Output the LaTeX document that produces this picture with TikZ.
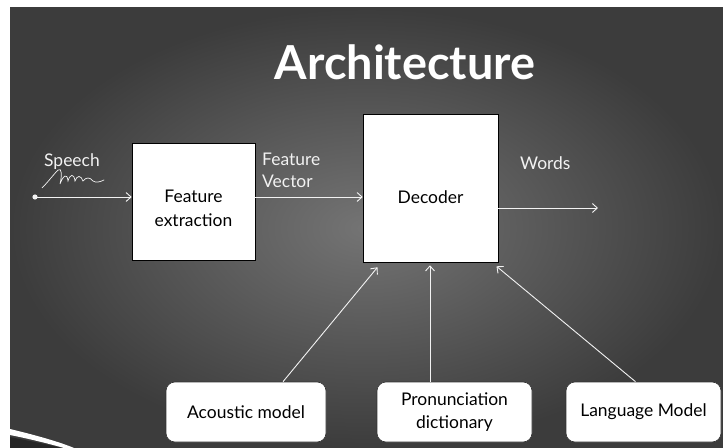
\documentclass[tikz,border=0pt]{standalone}
\usepackage{fontspec}
\setmainfont{Lato}
\usetikzlibrary{arrows.meta,shadings}
\definecolor{bgin}{HTML}{747474}
\definecolor{bgout}{HTML}{3C3C3C}
\definecolor{lbl}{HTML}{F2F2F2}
\tikzset{
  box/.style={draw=black, line width=0.6bp, fill=white, align=center, font=\fontsize{17.5}{23}\selectfont, inner sep=2bp},
  boxtext/.style={align=center, font=\fontsize{17.5}{24}\selectfont, inner sep=0pt},
  rbox/.style={box, rounded corners=9bp, draw=black!80},
  arr/.style={draw=lbl, line width=0.9bp, -{Straight Barb[length=5bp,width=9bp]}},
  wlabel/.style={text=lbl, align=left, font=\fontsize{17.5}{22}\selectfont, inner sep=0pt, anchor=north west},
}
\begin{document}
\begin{tikzpicture}[x=1bp,y=-1bp]
\useasboundingbox (0,0) rectangle (723,448);
\fill[white] (0,0) rectangle (723,448);
\shade[inner color=bgin, outer color=bgout] (10,8) rectangle (723,448);
% bottom-left swoosh
\fill[black!85] (10,437) .. controls (30,441) and (50,445) .. (62,448) -- (10,448) -- cycle;
\fill[white] (10,429) .. controls (35,435) and (60,442) .. (74,448) -- (64,448) .. controls (50,444) and (30,439) .. (10,435) -- cycle;
% title
\node[text=white, font=\fontsize{47}{54}\selectfont\bfseries] (title) at (405,62) {Architecture};
% main boxes
\node[box, minimum width=123bp, minimum height=117bp,
  label={[boxtext, yshift=-7bp]center:Feature\\extraction}] (fe) at (193.5,201.5) {};
\node[box, minimum width=135bp, minimum height=148bp,
  label={[boxtext, yshift=-9bp]center:Decoder}] (dec) at (430.5,188) {};
\node[rbox, minimum width=160bp, minimum height=60bp] (am) at (246,412) {Acoustic model};
\node[rbox, minimum width=155bp, minimum height=60bp] (pd) at (454.5,412) {Pronunciation\\dictionary};
\node[rbox, minimum width=155bp, minimum height=60bp] (lm) at (643.5,412) {Language Model};
% speech input
\coordinate (sp) at (35,197);
\fill[lbl] (sp) circle (2.6bp);
\draw[arr] (sp) -- (sp -| fe.west);
\node[wlabel] (speech) at (44,153) {Speech};
\draw[lbl, line width=0.7bp, line cap=round]
  (42,188) .. controls (48,182) and (54,174) .. (58,170)
  .. controls (62,167) and (62,176) .. (60,184)
  .. controls (63,176) and (67,172) .. (68,181)
  .. controls (70,174) and (74,173) .. (75,181)
  .. controls (77,175) and (81,175) .. (83,181)
  .. controls (86,177) and (90,177) .. (93,181)
  .. controls (96,183) and (100,182) .. (104,180);
% feature vector
\node[wlabel] (fv) at (262,153) {Feature\\Vector};
\draw[arr] (fe.east |- sp) -- (dec.west |- sp);
% words
\node[wlabel] (words) at (520,156) {Words};
\coordinate (wend) at (598,208);
\draw[arr] (dec.east |- wend) -- (wend);
% knowledge sources
\draw[arr] ([xshift=37bp]am.north) -- ([xshift=-53bp,yshift=-5bp]dec.south);
\draw[arr] (pd.north -| 430,0) -- ([yshift=-3bp]dec.south -| 430,0);
\draw[arr] ([xshift=-8bp]lm.north) -- ([xshift=66bp,yshift=-4bp]dec.south);
\end{tikzpicture}
\end{document}
